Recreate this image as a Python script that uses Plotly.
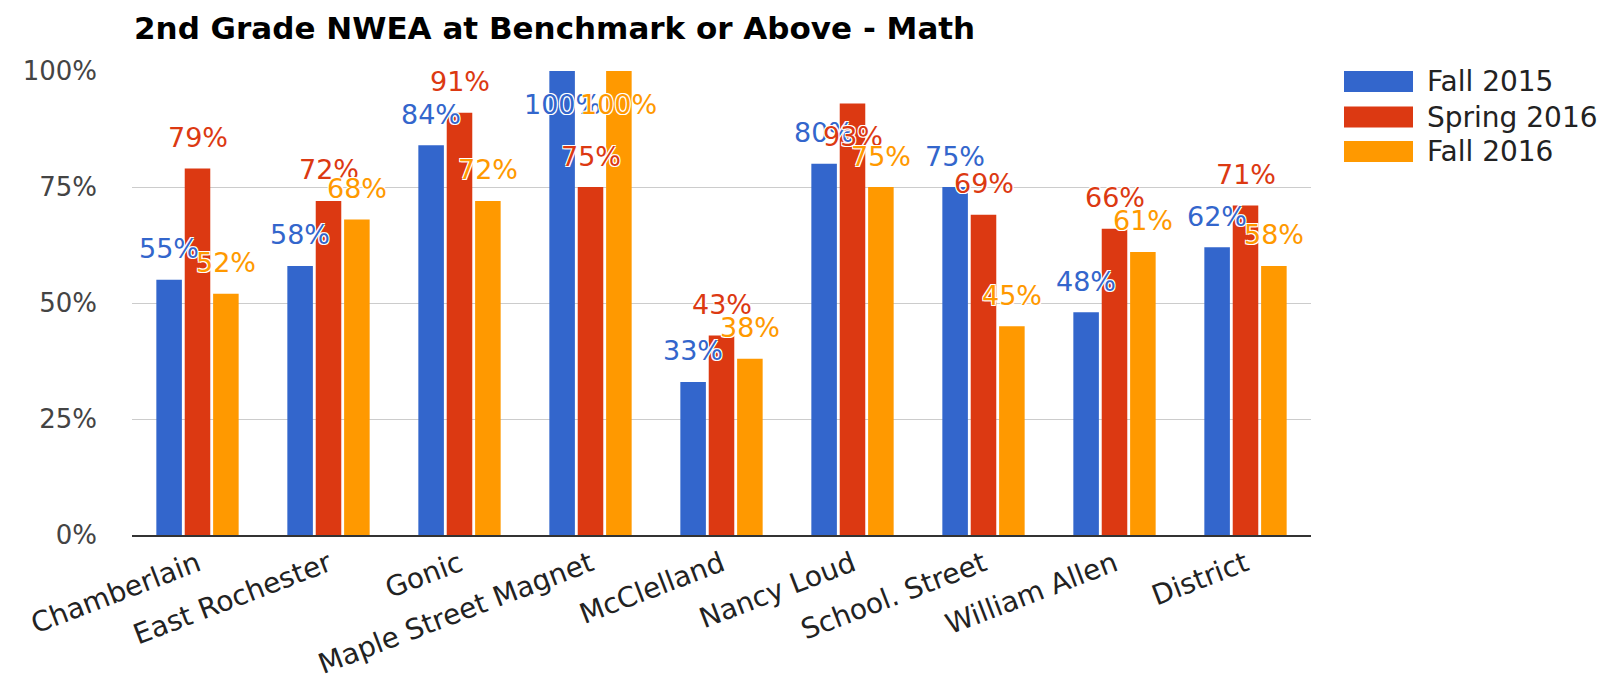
import plotly.graph_objects as go

# ---------------- data ----------------
title_text = "2nd Grade NWEA at Benchmark or Above - Math"
categories = ["Chamberlain", "East Rochester", "Gonic", "Maple Street Magnet",
              "McClelland", "Nancy Loud", "School. Street", "William Allen", "District"]
series_names = ["Fall 2015", "Spring 2016", "Fall 2016"]
fall_2015 = [55, 58, 84, 100, 33, 80, 75, 48, 62]
spring_2016 = [79, 72, 91, 75, 43, 93, 69, 66, 71]
fall_2016 = [52, 68, 72, 100, 38, 75, 45, 61, 58]
y_tick_values = [0, 25, 50, 75, 100]
y_tick_labels = ["0%", "25%", "50%", "75%", "100%"]

# ---------------- style ----------------
series_values = [fall_2015, spring_2016, fall_2016]
colors = ["#3366cc", "#dc3912", "#ff9900"]
# page body has an 8px margin, so the figure is drawn 8px in from the corner
OFF = 8
W, H = 1618 - OFF, 693 - OFF
M_L, M_R, M_T, M_B = 132 - OFF, 307, 71 - OFF, 138
plot_w = W - M_L - M_R
plot_h = H - M_T - M_B
BARGAP = 0.35
BARGROUPGAP = 0.1
FONT = "DejaVu Sans"
LABEL_SIZE = 27

fig = go.Figure()
for name, vals, col in zip(series_names, series_values, colors):
    fig.add_trace(go.Bar(x=categories, y=vals, name=name, marker_color=col,
                         marker_line_width=0, showlegend=False))

# data labels (annotations centred on each bar)
cat_px = plot_w / len(categories)
slot_px = cat_px * (1 - BARGAP) / len(series_values)
annotations = []
halo = "1px 1px 0px #fff, -1px -1px 0px #fff, 1px -1px 0px #fff, -1px 1px 0px #fff"
for i, (vals, col) in enumerate(zip(series_values, colors)):
    xshift = (i - (len(series_values) - 1) / 2) * slot_px
    for cat, v in zip(categories, vals):
        top_px = v / 100 * plot_h
        yshift = 31 if top_px + 31 + 11 <= plot_h else -33
        annotations.append(dict(
            x=cat, y=v, xref="x", yref="y", text=f"{v}%", showarrow=False,
            xshift=xshift, yshift=yshift, xanchor="center", yanchor="middle",
            font=dict(family=FONT, size=LABEL_SIZE, color=col, shadow=halo),
        ))

# custom legend (large swatches like the original)
def px_to_paper_x(px):
    return (px - OFF - M_L) / plot_w

def px_to_paper_y(py):
    return (H - M_B - (py - OFF)) / plot_h

shapes = []
leg_x0, leg_x1 = 1344, 1413
leg_centers = [82, 119, 155]
for name, col, cy in zip(series_names, colors, leg_centers):
    shapes.append(dict(type="rect", xref="paper", yref="paper",
                       x0=px_to_paper_x(leg_x0), x1=px_to_paper_x(leg_x1),
                       y0=px_to_paper_y(cy + 11), y1=px_to_paper_y(cy - 11),
                       fillcolor=col, line=dict(width=0)))
    annotations.append(dict(x=px_to_paper_x(1425), y=px_to_paper_y(cy), xref="paper", yref="paper",
                            text=name, showarrow=False, xanchor="left", yanchor="middle",
                            font=dict(family=FONT, size=28, color="#222")))

fig.update_layout(
    width=W, height=H,
    margin=dict(l=M_L, r=M_R, t=M_T, b=M_B, pad=0),
    paper_bgcolor="white", plot_bgcolor="white",
    barmode="group", bargap=BARGAP, bargroupgap=BARGROUPGAP,
    title=dict(text=f"<b>{title_text}</b>", x=(134 - OFF) / W, xanchor="left", xref="container",
               y=1 - (28 - OFF) / H, yanchor="middle", yref="container",
               font=dict(family=FONT, size=31, color="#000")),
    shapes=shapes,
    annotations=annotations,
    showlegend=False,
    xaxis=dict(showgrid=False, showline=True, linecolor="#333", linewidth=2,
               ticks="", tickangle=-21,
               tickfont=dict(family=FONT, size=28, color="#222")),
    yaxis=dict(range=[0, 100], tickvals=y_tick_values, ticktext=y_tick_labels,
               showgrid=True, gridcolor="#cccccc", gridwidth=1, zeroline=False,
               showline=False, ticks="", ticklabelstandoff=34,
               tickfont=dict(family=FONT, size=26, color="#444")),
)

fig.write_html("out.html")
